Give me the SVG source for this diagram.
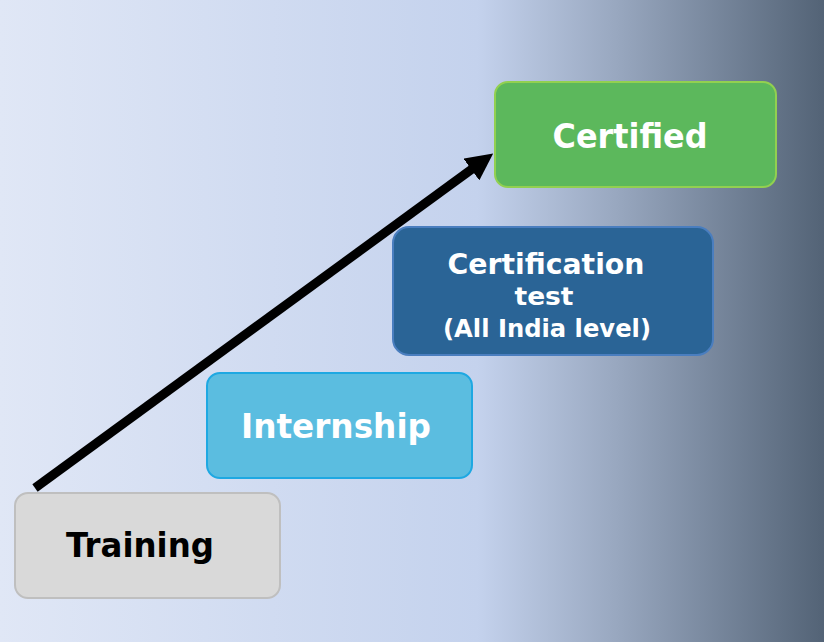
<svg xmlns="http://www.w3.org/2000/svg" width="824" height="642" viewBox="0 0 824 642">
<defs>
<linearGradient id="bg" x1="0" y1="0" x2="1" y2="0">
<stop offset="0" stop-color="#e0e7f6"/>
<stop offset="0.58" stop-color="#c4d2ed"/>
<stop offset="0.75" stop-color="#98a7bf"/>
<stop offset="1" stop-color="#536376"/>
</linearGradient>
<marker id="ah" markerWidth="3" markerHeight="3" refX="1.6" refY="1.5" orient="auto" markerUnits="strokeWidth">
<path d="M0,0 L3,1.5 L0,3 Z" fill="#000"/>
</marker>
<style>
.t{font-family:"DejaVu Sans",Verdana,sans-serif;font-weight:bold;text-anchor:middle}
.w{fill:#ffffff}
</style>
</defs>
<rect x="0" y="0" width="824" height="642" fill="url(#bg)"/>
<g id="training">
<rect x="15" y="493" width="265" height="105" rx="13" fill="#d9d9d9" stroke="#bfbfbf" stroke-width="2"/>
<text class="t" x="140" y="557" font-size="33" fill="#000" textLength="148" lengthAdjust="spacingAndGlyphs">Training</text>
</g>
<g id="internship">
<rect x="207" y="373" width="265" height="105" rx="13" fill="#5bbde0" stroke="#1ea8e2" stroke-width="2"/>
<text class="t w" x="336" y="438" font-size="33" textLength="190" lengthAdjust="spacingAndGlyphs">Internship</text>
</g>
<g id="certification">
<rect x="393" y="227" width="320" height="128" rx="16" fill="#2a6496" stroke="#4a7ebf" stroke-width="2"/>
<text class="t w" x="546" y="274" font-size="29" textLength="197" lengthAdjust="spacingAndGlyphs">Certification</text>
<text class="t w" x="544" y="305" font-size="24" textLength="59" lengthAdjust="spacingAndGlyphs">test</text>
<text class="t w" x="547" y="337" font-size="24" textLength="208" lengthAdjust="spacingAndGlyphs">(All India level)</text>
</g>
<g id="certified">
<rect x="495" y="82" width="281" height="105" rx="13" fill="#5cb85c" stroke="#92d050" stroke-width="2"/>
<text class="t w" x="630" y="148" font-size="34" textLength="155" lengthAdjust="spacingAndGlyphs">Certified</text>
</g>
<g id="connectors">
<line x1="35" y1="488" x2="483" y2="161" stroke="#000" stroke-width="9" marker-end="url(#ah)"/>
</g>
</svg>
